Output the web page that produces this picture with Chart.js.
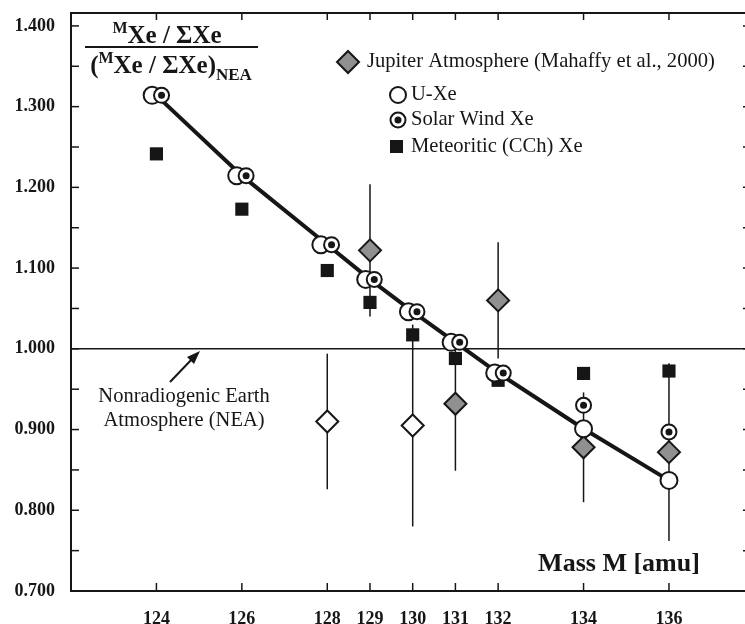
<!DOCTYPE html>
<html>
<head>
<meta charset="utf-8">
<script src="https://cdn.jsdelivr.net/npm/chart.js@4.4.0/dist/chart.umd.min.js"></script>
<style>
  html, body { margin: 0; padding: 0; background: #fff; overflow: hidden; }
  #wrap { width: 745px; height: 624px; }
</style>
</head>
<body>
<div id="wrap"><canvas id="xe" width="745" height="624"></canvas></div>
<script>
// axis ticks
const xTicks = [124, 126, 128, 129, 130, 131, 132, 134, 136];
const yTicks = [0.7, 0.8, 0.9, 1.0, 1.1, 1.2, 1.3, 1.4];
const yMinor = [0.75, 0.85, 0.95, 1.05, 1.15, 1.25, 1.35];

// U-Xe: the line runs through these at the exact masses
const uxeMass = [124, 126, 128, 129, 130, 131, 132, 134, 136];
const uxeVal = [1.314, 1.2145, 1.129, 1.086, 1.046, 1.008, 0.970, 0.901, 0.837];
// the markers are nudged left where they overlap solar wind
const uxeMarkMass = [123.9, 125.88, 127.85, 128.9, 129.9, 130.9, 131.92, 134, 136];

// Solar wind Xe (nudged right)
const swMass = [124.12, 126.1, 128.1, 129.1, 130.1, 131.1, 132.12, 134, 136];
const swVal = [1.314, 1.2145, 1.129, 1.086, 1.046, 1.008, 0.970, 0.930, 0.897];

// Meteoritic (CCh) Xe
const cchMass = [124, 126, 128, 129, 130, 131, 132, 134, 136];
const cchVal = [1.2415, 1.173, 1.097, 1.0575, 1.0173, 0.988, 0.961, 0.9695, 0.9725];

// Jupiter atmosphere, filled symbols
const jupMass = [129, 131, 132, 134, 136];
const jupVal = [1.122, 0.932, 1.060, 0.878, 0.872];
const jupErr = [0.082, 0.083, 0.072, 0.068, 0.11];
// Jupiter atmosphere, open symbols
const jupOpenMass = [128, 130];
const jupOpenVal = [0.910, 0.905];
const jupOpenErr = [0.084, 0.125];

const neaLevel = 1.0;

const serif = '"Liberation Serif", "Times New Roman", serif';
const ink = '#161616';
const grey = '#909090';

function pts(xs, ys) {
    return xs.map((x, i) => ({ x: x, y: ys[i] }));
}

function seg(ctx, x1, y1, x2, y2) {
    ctx.beginPath();
    ctx.moveTo(x1, y1);
    ctx.lineTo(x2, y2);
    ctx.stroke();
}

// draws a run of text pieces (for super/subscripts), centred on cx
function drawRich(ctx, parts, cx, base) {
    let total = 0;
    parts.forEach(p => {
        ctx.font = 'bold ' + p.size + 'px ' + serif;
        p.w = ctx.measureText(p.t).width;
        total += p.w;
    });
    let x = cx - total / 2;
    ctx.textAlign = 'left';
    ctx.textBaseline = 'alphabetic';
    parts.forEach(p => {
        ctx.font = 'bold ' + p.size + 'px ' + serif;
        ctx.fillText(p.t, x, base + (p.dy || 0));
        x += p.w;
    });
}

// keep the scales from reserving extra room around the plot
function noPad(s) {
    s.paddingTop = 0;
    s.paddingBottom = 0;
    s.paddingLeft = 0;
    s.paddingRight = 0;
}

const framePlugin = {
    id: 'frame',
    beforeDatasetsDraw(chart) {
        const { ctx, chartArea: a, scales: { x, y } } = chart;
        ctx.save();
        ctx.strokeStyle = ink;

        // nonradiogenic earth atmosphere reference
        ctx.lineWidth = 1.5;
        const yn = y.getPixelForValue(neaLevel);
        seg(ctx, a.left, yn, a.right, yn);

        // error bars for the jupiter points
        [[jupMass, jupVal, jupErr], [jupOpenMass, jupOpenVal, jupOpenErr]].forEach(set => {
            set[0].forEach((m, i) => {
                const px = x.getPixelForValue(m);
                seg(ctx, px, y.getPixelForValue(set[1][i] + set[2][i]), px, y.getPixelForValue(set[1][i] - set[2][i]));
            });
        });

        // box: left, top, bottom (the right side is cut off in the scan)
        ctx.lineWidth = 2;
        ctx.beginPath();
        ctx.moveTo(a.right, a.top);
        ctx.lineTo(a.left, a.top);
        ctx.lineTo(a.left, a.bottom);
        ctx.lineTo(a.right, a.bottom);
        ctx.stroke();

        // inward ticks
        ctx.lineWidth = 1.5;
        xTicks.forEach(v => {
            const px = x.getPixelForValue(v);
            seg(ctx, px, a.bottom, px, a.bottom - 8);
            seg(ctx, px, a.top, px, a.top + 7);
        });
        yTicks.concat(yMinor).forEach(v => {
            const py = y.getPixelForValue(v);
            seg(ctx, a.left, py, a.left + 8, py);
            seg(ctx, a.right, py, a.right - 2, py);
        });
        ctx.restore();
    }
};

const notesPlugin = {
    id: 'notes',
    afterDraw(chart) {
        const ctx = chart.ctx;
        ctx.save();
        ctx.fillStyle = ink;
        ctx.strokeStyle = ink;

        // y quantity as a fraction
        drawRich(ctx, [
            { t: 'M', size: 16, dy: -10 },
            { t: 'Xe / \u03A3Xe', size: 25 }
        ], 167, 43);
        ctx.lineWidth = 2;
        seg(ctx, 85, 47, 258, 47);
        drawRich(ctx, [
            { t: '(', size: 25 },
            { t: 'M', size: 16, dy: -10 },
            { t: 'Xe / \u03A3Xe)', size: 25 },
            { t: 'NEA', size: 17, dy: 7 }
        ], 171, 73);

        // x quantity
        ctx.font = 'bold 26px ' + serif;
        ctx.textAlign = 'center';
        ctx.textBaseline = 'middle';
        ctx.fillText('Mass M [amu]', 619, 564);

        // NEA note and arrow
        ctx.font = '20.5px ' + serif;
        ctx.fillText('Nonradiogenic Earth', 184, 397);
        ctx.fillText('Atmosphere (NEA)', 184, 421);
        ctx.lineWidth = 2;
        seg(ctx, 170, 382, 193, 358);
        ctx.beginPath();
        ctx.moveTo(200, 351);
        ctx.lineTo(187, 357);
        ctx.lineTo(194, 364);
        ctx.closePath();
        ctx.fill();

        // legend
        ctx.textAlign = 'left';
        ctx.font = '20.6px ' + serif;
        ctx.lineWidth = 2;
        ctx.beginPath();
        ctx.moveTo(348, 51); ctx.lineTo(359, 62); ctx.lineTo(348, 73); ctx.lineTo(337, 62);
        ctx.closePath();
        ctx.fillStyle = grey; ctx.fill(); ctx.stroke();
        ctx.fillStyle = ink;
        ctx.fillText('Jupiter Atmosphere (Mahaffy et al., 2000)', 367, 62);

        ctx.beginPath(); ctx.arc(398, 95, 8, 0, Math.PI * 2);
        ctx.fillStyle = '#fff'; ctx.fill(); ctx.stroke();
        ctx.fillStyle = ink;
        ctx.fillText('U-Xe', 411, 95);

        ctx.beginPath(); ctx.arc(398, 120, 7.5, 0, Math.PI * 2);
        ctx.fillStyle = '#fff'; ctx.fill(); ctx.stroke();
        ctx.fillStyle = ink;
        ctx.beginPath(); ctx.arc(398, 120, 3.5, 0, Math.PI * 2); ctx.fill();
        ctx.fillText('Solar Wind Xe', 411, 120);

        ctx.fillRect(390, 140, 13, 13);
        ctx.fillText('Meteoritic (CCh) Xe', 411, 147);
        ctx.restore();
    }
};

const ctx = document.getElementById('xe').getContext('2d');

new Chart(ctx, {
    type: 'scatter',
    data: {
        datasets: [
            {
                label: 'U-Xe line',
                type: 'line',
                data: pts(uxeMass, uxeVal),
                borderColor: ink,
                borderWidth: 4,
                pointRadius: 0,
                tension: 0,
                fill: false,
                order: 6
            },
            {
                label: 'Meteoritic (CCh) Xe',
                data: pts(cchMass, cchVal),
                pointStyle: 'rect',
                pointRadius: 9.3,
                backgroundColor: ink,
                borderColor: ink,
                borderWidth: 0,
                order: 5
            },
            {
                label: 'Jupiter Atmosphere (open)',
                data: pts(jupOpenMass, jupOpenVal),
                pointStyle: 'rectRot',
                pointRadius: 11,
                backgroundColor: '#fff',
                borderColor: ink,
                borderWidth: 2,
                order: 4
            },
            {
                label: 'Jupiter Atmosphere (Mahaffy et al., 2000)',
                data: pts(jupMass, jupVal),
                pointStyle: 'rectRot',
                pointRadius: 11,
                backgroundColor: grey,
                borderColor: ink,
                borderWidth: 2,
                order: 4
            },
            {
                label: 'U-Xe',
                data: pts(uxeMarkMass, uxeVal),
                pointStyle: 'circle',
                pointRadius: 8.5,
                backgroundColor: '#fff',
                borderColor: ink,
                borderWidth: 2,
                order: 3
            },
            {
                label: 'Solar Wind Xe',
                data: pts(swMass, swVal),
                pointStyle: 'circle',
                pointRadius: 7.5,
                backgroundColor: '#fff',
                borderColor: ink,
                borderWidth: 2,
                order: 2
            },
            {
                label: 'Solar Wind Xe (dot)',
                data: pts(swMass, swVal),
                pointStyle: 'circle',
                pointRadius: 3.5,
                backgroundColor: ink,
                borderWidth: 0,
                order: 1
            }
        ]
    },
    options: {
        responsive: false,
        animation: false,
        events: [],
        layout: { autoPadding: false, padding: { top: 13, right: 0, left: 0, bottom: 0 } },
        plugins: {
            legend: { display: false },
            tooltip: { enabled: false }
        },
        scales: {
            x: {
                type: 'linear',
                min: 122,
                max: 137.78,
                grid: { display: false, drawTicks: false },
                border: { display: false },
                afterBuildTicks: s => { s.ticks = xTicks.map(v => ({ value: v })); },
                afterFit: s => { s.height = 33; noPad(s); },
                ticks: {
                    font: { family: serif, size: 18, weight: 'bold' },
                    color: ink,
                    padding: 18,
                    maxRotation: 0,
                    autoSkip: false
                }
            },
            y: {
                type: 'linear',
                min: 0.7,
                max: 1.416,
                grid: { display: false, drawTicks: false },
                border: { display: false },
                afterBuildTicks: s => { s.ticks = yTicks.map(v => ({ value: v })); },
                afterFit: s => { s.width = 71; noPad(s); },
                ticks: {
                    font: { family: serif, size: 18, weight: 'bold' },
                    color: ink,
                    padding: 16,
                    callback: v => v.toFixed(3)
                }
            }
        }
    },
    plugins: [framePlugin, notesPlugin]
});
</script>
</body>
</html>
